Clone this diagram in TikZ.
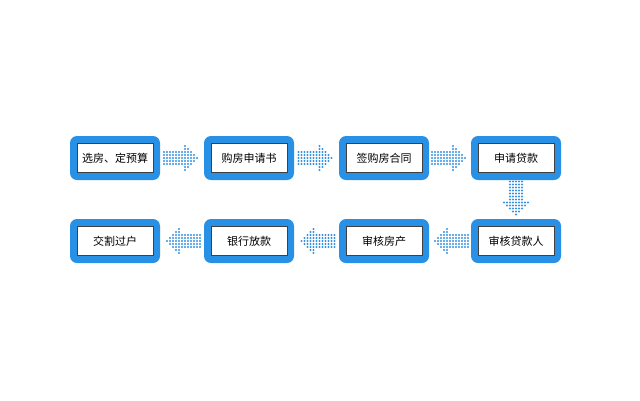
\documentclass[tikz,border=0pt]{standalone}
\usepackage{fontspec}
\setmainfont{Noto Sans CJK SC}
\usetikzlibrary{calc}
\definecolor{stepblue}{RGB}{40,145,230}
\definecolor{dotblue}{RGB}{55,145,225}
\newcommand\stepnode[3]{%
  \fill[stepblue,rounded corners=7pt] ($(#2)+(-45,-22)$) rectangle ($(#2)+(45,22)$);
  \node[stepbox] (#1) at (#2) {#3};}
\begin{document}
\begin{tikzpicture}[x=1pt,y=-1pt,
stepbox/.style={draw=black!75,line width=0.6pt,fill=white,minimum width=76pt,minimum height=29pt,
  inner sep=0pt,font=\fontsize{11}{13}\selectfont},
dotarr/.pic={
  \foreach \i in {0,...,6}{\foreach \j in {-2,...,2}{\fill[dotblue] (\i*3-18,\j*3) circle (1.1);}}
  \foreach \k in {0,...,4}{\pgfmathtruncatemacro\m{4-\k}
    \foreach \j in {-\m,...,\m}{\fill[dotblue] (\k*3+3,\j*3) circle (1.1);}}
}]
\useasboundingbox (0,0) rectangle (640,400);
\stepnode{xuan}{115,158}{选房、定预算}
\stepnode{gou}{249,158}{购房申请书}
\stepnode{qian}{384,158}{签购房合同}
\stepnode{shen}{516,158}{申请贷款}
\stepnode{ren}{516,241}{审核贷款人}
\stepnode{fang}{384,241}{审核房产}
\stepnode{yin}{249,241}{银行放款}
\stepnode{jiao}{115,241}{交割过户}

\path ($(xuan.east)!0.5!(gou.west)$) pic {dotarr};
\path ($(gou.east)!0.5!(qian.west)$) pic {dotarr};
\path ($(qian.east)!0.5!(shen.west)$) pic {dotarr};
\path ($(shen.south)!0.5!(ren.north)$) pic[rotate=-90] {dotarr};
\path ($(ren.west)!0.5!(fang.east)$) pic[rotate=180] {dotarr};
\path ($(fang.west)!0.5!(yin.east)$) pic[rotate=180] {dotarr};
\path ($(yin.west)!0.5!(jiao.east)$) pic[rotate=180] {dotarr};
\end{tikzpicture}
\end{document}
